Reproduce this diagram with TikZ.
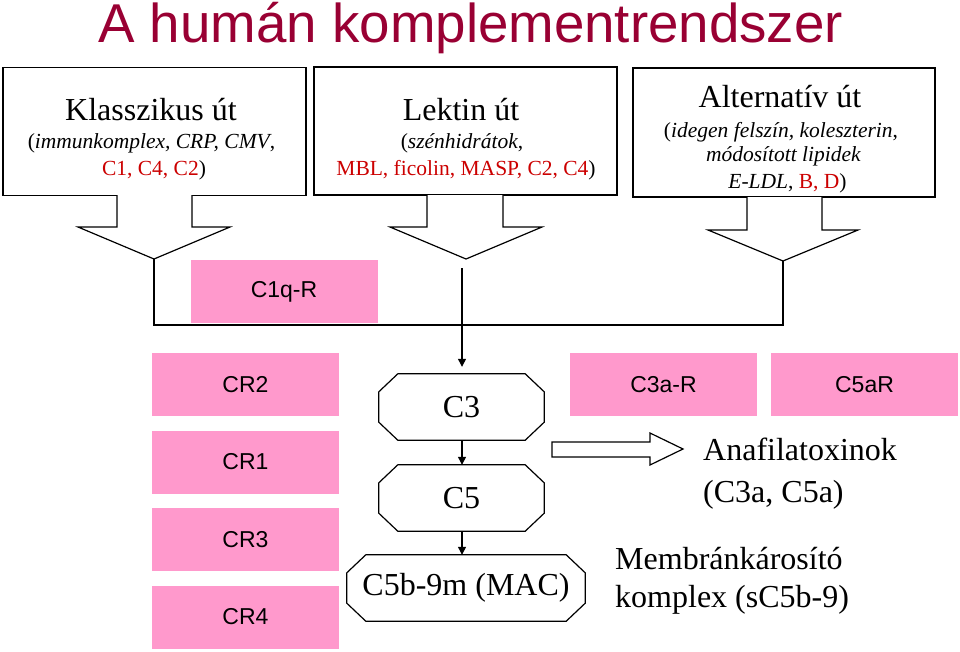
\documentclass[tikz,border=0pt]{standalone}
\usepackage{fontspec}
\setmainfont{Liberation Serif}
\newfontfamily\arialf{Liberation Sans}
\usetikzlibrary{arrows.meta}
\definecolor{titlered}{HTML}{990033}
\definecolor{txtred}{HTML}{CC0000}
\definecolor{pinkbox}{HTML}{FF99CC}
\newcommand\octoframe[1]{%
  \draw[line width=1.2pt, line join=miter]
    ([xshift=19pt]#1.north west) -- ([xshift=-19pt]#1.north east)
    -- ([yshift=-18pt]#1.north east) -- ([yshift=18pt]#1.south east)
    -- ([xshift=-19pt]#1.south east) -- ([xshift=19pt]#1.south west)
    -- ([yshift=18pt]#1.south west) -- ([yshift=-18pt]#1.north west) -- cycle;}
\begin{document}
\begin{tikzpicture}[x=1pt,y=-1pt,
  pathbox/.style={draw, line width=1.2pt, inner sep=0pt, fill=white},
  blockarrow/.style={draw, line width=1.2pt, fill=white, line join=miter},
  conn/.style={draw, line width=1.2pt},
  arr/.style={draw, line width=1.2pt, -{Triangle[length=8pt,width=8pt]}},
  recbox/.style={fill=pinkbox, inner sep=0pt, minimum width=187pt, minimum height=63pt, font=\arialf\fontsize{23}{27}\selectfont},
  octbox/.style={rectangle, inner sep=0pt, font=\fontsize{32}{36}\selectfont},
  headtxt/.style={anchor=base, inner sep=0pt, font=\fontsize{32}{36}\selectfont},
  subtxt/.style={anchor=base, inner sep=0pt, font=\fontsize{21.5}{26}\selectfont},
  bigtxt/.style={anchor=base west, inner sep=0pt, font=\fontsize{32}{36}\selectfont}
]
\useasboundingbox (0,0) rectangle (960,651);

% title
\node[anchor=base west, inner sep=0pt, font=\arialf\fontsize{54.7}{60}\selectfont, text=titlered] (title) at (98,42.5) {A humán komplementrendszer};

% pathway boxes
\node[pathbox, minimum width=303pt, minimum height=128pt] (klass) at (154.5,131.5) {};
\node[pathbox, minimum width=303pt, minimum height=128pt] (lekt) at (465.5,131) {};
\node[pathbox, minimum width=302pt, minimum height=129pt] (alt) at (784,132.5) {};

% block arrows under boxes
\draw[blockarrow] (117,195) -- (117,227) -- (78,227) -- (154,259) -- (230,227) -- (192,227) -- (192,195);
\draw[blockarrow] (427,195) -- (427,227) -- (390,227) -- (466,259) -- (542,227) -- (503,227) -- (503,195);
\draw[blockarrow] (747,197) -- (747,230) -- (708,230) -- (783,261) -- (858,230) -- (822,230) -- (822,197);
\coordinate (tip1) at (154,259);
\coordinate (tip3) at (783,261);
\coordinate (junc) at (783,325);
\coordinate (start2) at (462,268);

% box texts
\node[headtxt] (k1) at (151,120) {Klasszikus út};
\node[subtxt] (k2) at (151.5,148) {(\textit{immunkomplex, CRP, CMV},};
\node[subtxt] (k3) at (154,175) {\textcolor{txtred}{C1, C4, C2})};

\node[headtxt] (l1) at (461,120) {Lektin út};
\node[subtxt] (l2) at (462,148) {(\textit{szénhidrátok},};
\node[subtxt] (l3) at (466,175) {\textcolor{txtred}{MBL, ficolin, MASP, C2, C4})};

\node[headtxt] (a1) at (780,107) {Alternatív út};
\node[subtxt] (a2) at (781,137) {(\textit{idegen felszín, koleszterin},};
\node[subtxt] (a3) at (783.5,161) {\textit{módosított lipidek}};
\node[subtxt] (a4) at (787.5,188) {\textit{E-LDL}, \textcolor{txtred}{B, D})};

% C1q-R
\node[recbox] (c1qr) at (284,291.5) {C1q-R};

% joining line
\draw[conn] (tip1) |- (junc) -- (tip3);

% receptor boxes
\node[recbox] (cr2) at (245.5,384.5) {CR2};
\node[recbox] (cr1) at (245.5,462) {CR1};
\node[recbox] (cr3) at (245.5,539.5) {CR3};
\node[recbox] (cr4) at (245.5,617) {CR4};
\node[recbox] (c3ar) at (663.5,384.5) {C3a-R};
\node[recbox] (c5ar) at (864.5,384.5) {C5aR};

% cascade
\node[octbox, minimum width=165pt, minimum height=66pt] (c3) at (461.5,407) {C3};
\node[octbox, minimum width=165pt, minimum height=66pt] (c5) at (461.5,498) {C5};
\node[octbox, minimum width=238pt, minimum height=66pt] (mac) at (466,588) {C5b-9m (MAC)};
\octoframe{c3}
\octoframe{c5}
\octoframe{mac}

\draw[arr, shorten >=7pt] (start2) -- (start2 |- c3.north);
\draw[arr] (c3.south -| start2) -- (c5.north -| start2);
\draw[arr] (c5.south -| start2) -- (mac.north -| start2);

% hollow block arrow
\draw[blockarrow] (552,442) -- (650,442) -- (650,433) -- (683,449) -- (650,465) -- (650,457) -- (552,457) -- cycle;

% right texts
\node[bigtxt] (ana1) at (703,460) {Anafilatoxinok};
\node[bigtxt] (ana2) at (703,502) {(C3a, C5a)};
\node[bigtxt] (mem1) at (615,569) {Membránkárosító};
\node[bigtxt] (mem2) at (615,607) {komplex (sC5b-9)};
\end{tikzpicture}
\end{document}
